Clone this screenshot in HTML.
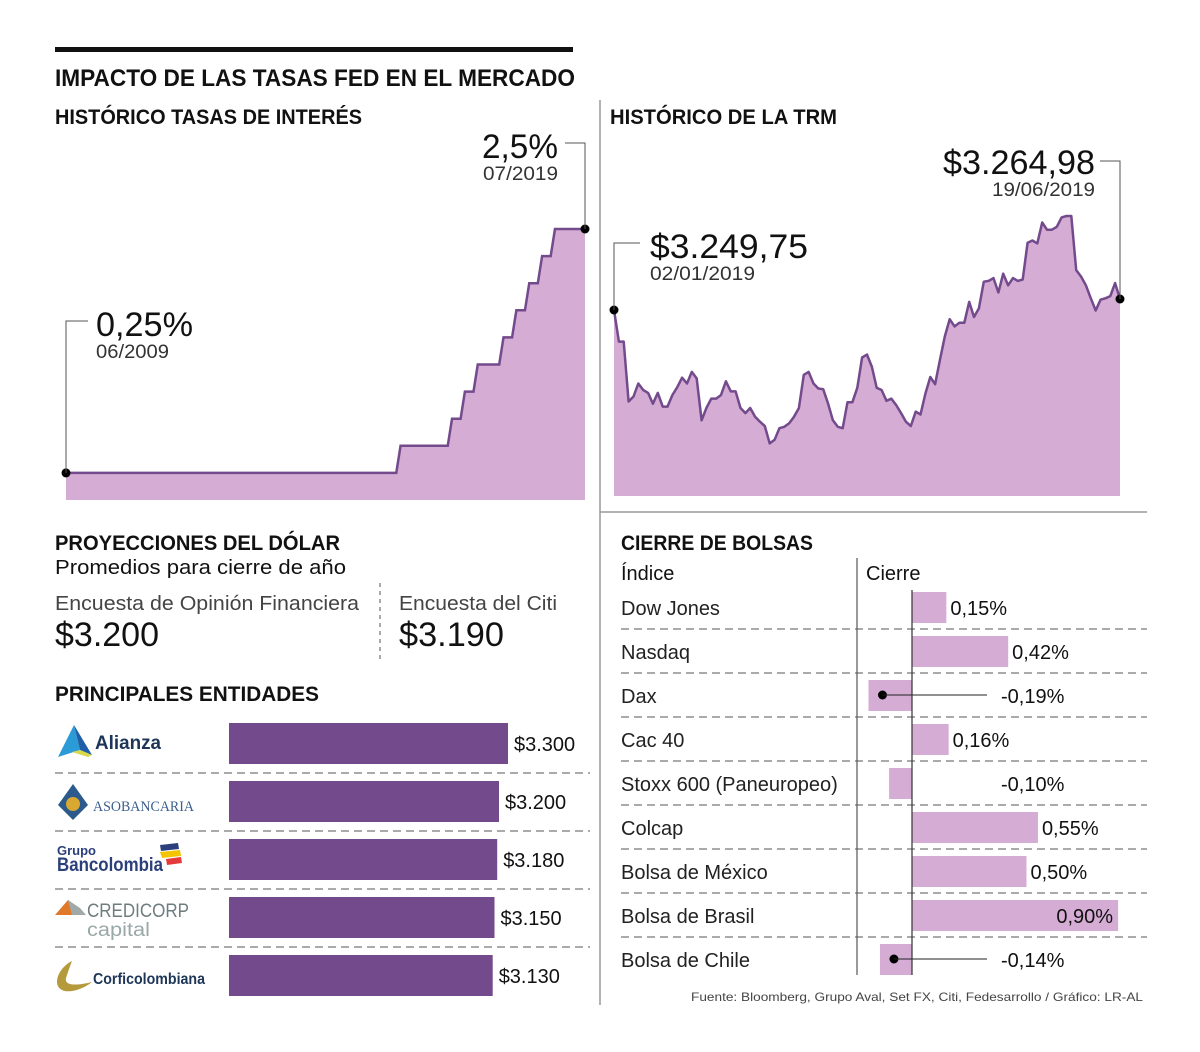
<!DOCTYPE html>
<html><head><meta charset="utf-8"><style>
html,body{margin:0;padding:0;background:#fff;}
svg{display:block;font-family:"Liberation Sans",sans-serif;}
</style></head><body>
<svg id="root" width="1200" height="1052" viewBox="0 0 1200 1052" xmlns="http://www.w3.org/2000/svg">
<rect x="55" y="47" width="518" height="5" fill="#111"/>
<text x="55" y="86" font-size="24" font-weight="bold" fill="#111" textLength="520" lengthAdjust="spacingAndGlyphs">IMPACTO DE LAS TASAS FED EN EL MERCADO</text>
<line x1="600" y1="100" x2="600" y2="1005" stroke="#999" stroke-width="1.5"/>
<line x1="600" y1="512" x2="1147" y2="512" stroke="#999" stroke-width="1.5"/>
<text x="55" y="124" font-size="21" font-weight="bold" fill="#111" textLength="307" lengthAdjust="spacingAndGlyphs">HISTÓRICO TASAS DE INTERÉS</text>
<text x="610" y="124" font-size="21" font-weight="bold" fill="#111" textLength="227" lengthAdjust="spacingAndGlyphs">HISTÓRICO DE LA TRM</text>
<g id="rates"></g>
<g id="trm"></g>

<!-- rates annotations -->
<polyline points="565,143 585,143 585,229" fill="none" stroke="#555" stroke-width="1"/>
<text x="482" y="158" font-size="34" fill="#111" textLength="76" lengthAdjust="spacingAndGlyphs">2,5%</text>
<text x="483" y="180" font-size="19" fill="#333" textLength="75" lengthAdjust="spacingAndGlyphs">07/2019</text>
<polyline points="88,321 66,321 66,473" fill="none" stroke="#555" stroke-width="1"/>
<text x="96" y="336" font-size="34" fill="#111" textLength="97" lengthAdjust="spacingAndGlyphs">0,25%</text>
<text x="96" y="358" font-size="19" fill="#333" textLength="73" lengthAdjust="spacingAndGlyphs">06/2009</text>

<!-- trm annotations -->
<polyline points="640,243 614,243 614,310" fill="none" stroke="#555" stroke-width="1"/>
<text x="650" y="258" font-size="34" fill="#111" textLength="158" lengthAdjust="spacingAndGlyphs">$3.249,75</text>
<text x="650" y="280" font-size="19" fill="#333" textLength="105" lengthAdjust="spacingAndGlyphs">02/01/2019</text>
<polyline points="1100,161 1120,161 1120,299" fill="none" stroke="#555" stroke-width="1"/>
<text x="943" y="174" font-size="34" fill="#111" textLength="152" lengthAdjust="spacingAndGlyphs">$3.264,98</text>
<text x="992" y="196" font-size="19" fill="#333" textLength="103" lengthAdjust="spacingAndGlyphs">19/06/2019</text>

<!-- projections -->
<text x="55" y="550" font-size="21" font-weight="bold" fill="#111" textLength="285" lengthAdjust="spacingAndGlyphs">PROYECCIONES DEL DÓLAR</text>
<text x="55" y="574" font-size="20" fill="#111" textLength="291" lengthAdjust="spacingAndGlyphs">Promedios para cierre de año</text>
<text x="55" y="610" font-size="20" fill="#444" textLength="304" lengthAdjust="spacingAndGlyphs">Encuesta de Opinión Financiera</text>
<text x="55" y="646" font-size="34" fill="#111" textLength="104" lengthAdjust="spacingAndGlyphs">$3.200</text>
<line x1="380" y1="583" x2="380" y2="663" stroke="#555" stroke-width="1" stroke-dasharray="4,4"/>
<text x="399" y="610" font-size="20" fill="#444" textLength="158" lengthAdjust="spacingAndGlyphs">Encuesta del Citi</text>
<text x="399" y="646" font-size="34" fill="#111" textLength="105" lengthAdjust="spacingAndGlyphs">$3.190</text>
<text x="55" y="701" font-size="21" font-weight="bold" fill="#111" textLength="264" lengthAdjust="spacingAndGlyphs">PRINCIPALES ENTIDADES</text>
<g id="entities"></g>

<!-- logos -->
<g>
<polygon points="74,725 58,757 80,750" fill="#2a9bd6"/><polygon points="74,725 92,755 80,750" fill="#1f5fa8"/><polygon points="80,750 92,755 88,757 72,752" fill="#d8d84a"/>
<text x="95" y="749" font-size="19" font-weight="bold" fill="#1d3557" textLength="66" lengthAdjust="spacingAndGlyphs">Alianza</text></g>
<g>
<polygon points="73,784 58,805 73,820 88,805" fill="#2c5a8c"/><circle cx="73" cy="804" r="7" fill="#d8a830"/>
<text x="93" y="811" font-size="15" fill="#3a5f8f" textLength="101" lengthAdjust="spacingAndGlyphs" font-family="Liberation Serif,serif">ASOBANCARIA</text></g>
<g>
<text x="57" y="855" font-size="13" font-weight="bold" fill="#2b3f7a">Grupo</text>
<text x="57" y="871" font-size="19" font-weight="bold" fill="#2b3f7a" textLength="106" lengthAdjust="spacingAndGlyphs">Bancolombia</text>
<polygon points="160,845 178,843 179,849 161,851" fill="#2b3f7a"/><polygon points="160,852 180,850 181,856 162,858" fill="#f2c500"/><polygon points="166,859 181,857 182,863 167,865" fill="#e53a3a"/></g>
<g>
<polygon points="55,915 68,900 85,915" fill="#e07a2a"/><polygon points="68,900 80,908 86,915 72,915" fill="#a0a9a8"/>
<text x="87" y="917" font-size="19" fill="#6f7d7e" textLength="102" lengthAdjust="spacingAndGlyphs">CREDICORP</text>
<text x="87" y="936" font-size="19" fill="#9aa8a8" textLength="63" lengthAdjust="spacingAndGlyphs">capital</text></g>
<g>
<path d="M72,961 C58,968 52,985 62,990 C70,994 85,988 92,982 C80,985 64,987 66,978 C68,972 70,966 72,961 Z" fill="#b49a3a"/>
<text x="93" y="984" font-size="16" font-weight="bold" fill="#1d3557" textLength="112" lengthAdjust="spacingAndGlyphs">Corficolombiana</text></g>

<!-- bolsas -->
<text x="621" y="550" font-size="21" font-weight="bold" fill="#111" textLength="192" lengthAdjust="spacingAndGlyphs">CIERRE DE BOLSAS</text>
<text x="621" y="580" font-size="20" fill="#111">Índice</text>
<text x="866" y="580" font-size="20" fill="#111">Cierre</text>
<line x1="857" y1="558" x2="857" y2="975" stroke="#333" stroke-width="1"/>
<g id="markets"></g>
<text x="1143" y="1001" font-size="12" fill="#444" text-anchor="end" textLength="452" lengthAdjust="spacingAndGlyphs">Fuente: Bloomberg, Grupo Aval, Set FX, Citi, Fedesarrollo / Gráfico: LR-AL</text>
</svg>
<script>
const NS='http://www.w3.org/2000/svg';
// ---- rates data (month index since 06/2009, rate %) ----
const rateMonths=[0,78,90,93,96,102,105,108,111,114,121];
const rateValues=[0.25,0.5,0.75,1.0,1.25,1.5,1.75,2.0,2.25,2.5,2.5];
// ---- TRM data ----
const trmValues=[3249.75,3206,3206,3123,3130,3148,3139,3135,3120,3135,3116,3116,3132,3143,3156,3148,3164,3155,3097,3114,3127,3127,3132,3151,3137,3137,3114,3107,3114,3102,3095,3089,3065,3070,3086,3088,3093,3102,3114,3160,3164,3148,3141,3140,3120,3097,3088,3086,3122,3122,3142,3184,3188,3171,3142,3139,3124,3127,3118,3107,3095,3089,3109,3105,3134,3157,3147,3181,3213,3237,3227,3232,3232,3261,3240,3252,3289,3290,3294,3274,3300,3284,3294,3290,3292,3343,3346,3342,3371,3361,3361,3365,3378,3380,3380,3305,3296,3284,3266,3249,3264,3266,3269,3287,3264.98];
// ---- entities ----
const entityNames=['Alianza','Asobancaria','Bancolombia','Credicorp Capital','Corficolombiana'];
const entityValues=[3300,3200,3180,3150,3130];
const entityLabels=['$3.300','$3.200','$3.180','$3.150','$3.130'];
// ---- markets ----
const marketNames=['Dow Jones','Nasdaq','Dax','Cac 40','Stoxx 600 (Paneuropeo)','Colcap','Bolsa de México','Bolsa de Brasil','Bolsa de Chile'];
const marketValues=[0.15,0.42,-0.19,0.16,-0.10,0.55,0.50,0.90,-0.14];
const marketLabels=['0,15%','0,42%','-0,19%','0,16%','-0,10%','0,55%','0,50%','0,90%','-0,14%'];

function mk(tag,attrs,parent){const e=document.createElementNS(NS,tag);for(const k in attrs)e.setAttribute(k,attrs[k]);parent.appendChild(e);return e;}

// rates chart
const rx=m=>66+m/121*519, ry=v=>500-v*108.4;
const rg=document.getElementById('rates');
let pts=[[rx(0),ry(rateValues[0])]];
for(let i=1;i<rateMonths.length;i++){pts.push([rx(rateMonths[i]-1),ry(rateValues[i-1])]);pts.push([rx(rateMonths[i]),ry(rateValues[i])]);}
const rArea=mk('polygon',{points:pts.map(p=>p.join(',')).join(' ')+` ${rx(121)},500 ${rx(0)},500`,fill:'#d4acd4'},rg);


const rLine=mk('polyline',{points:pts.map(p=>p.join(',')).join(' '),fill:'none',stroke:'#734a8c','stroke-width':2.5},rg);


const rd1=mk('circle',{cx:rx(0),cy:ry(rateValues[0]),r:4.5,fill:'#000'},rg);


const rd2=mk('circle',{cx:rx(121),cy:ry(rateValues[rateValues.length-1]),r:4.5,fill:'#000'},rg);



// TRM chart
const n=trmValues.length;
const tx=i=>614+i/(n-1)*506, ty=v=>310-(v-3249.75)/1.385;
const tg=document.getElementById('trm');
const tp=trmValues.map((v,i)=>tx(i).toFixed(1)+','+ty(v).toFixed(1)).join(' ');
const tArea=mk('polygon',{points:tp+` 1120,496 614,496`,fill:'#d4acd4'},tg);


const tLine=mk('polyline',{points:tp,fill:'none',stroke:'#734a8c','stroke-width':2.5,'stroke-linejoin':'round'},tg);


const td1=mk('circle',{cx:tx(0),cy:ty(trmValues[0]),r:4.5,fill:'#000'},tg);


const td2=mk('circle',{cx:tx(n-1),cy:ty(trmValues[n-1]),r:4.5,fill:'#000'},tg);



// entities
const eg=document.getElementById('entities');
const ex=v=>(v-200)*0.09;
entityValues.forEach((v,i)=>{
  const y=723+i*58;
  const b=mk('rect',{x:229,y:y,width:ex(v),height:41,fill:'#734a8c'},eg);
  
  
  const t=mk('text',{x:229+ex(v)+6,y:y+28,'font-size':20,fill:'#111'},eg);t.textContent=entityLabels[i];
  
  
  if(i<entityValues.length-1){const l=mk('line',{x1:55,y1:y+50,x2:590,y2:y+50,stroke:'#555','stroke-dasharray':'8,5'},eg);
  
  }
});

// markets
const mg=document.getElementById('markets');
const mx=v=>912+v*229;
marketValues.forEach((v,i)=>{
  const cy=607+i*44;
  const t=mk('text',{x:621,y:cy+8,'font-size':20,fill:'#222'},mg);t.textContent=marketNames[i];
  
  
  const x0=Math.min(mx(0),mx(v)),w=Math.abs(mx(v)-mx(0));
  const b=mk('rect',{x:x0,y:cy-15,width:w,height:31,fill:'#d4acd4'},mg);
  
  
  let lx,anchor='start';
  if(v<0){lx=1001;
    if(w>25){const d=mk('circle',{cx:x0+14,cy:cy,r:4.5,fill:'#000'},mg);
      
      
      const ln=mk('line',{x1:x0+14,y1:cy,x2:987,y2:cy,stroke:'#222','stroke-width':1},mg);
      
      }
  } else if(w>150){lx=mx(v)-5;anchor='end';} else lx=mx(v)+4;
  const vl=mk('text',{x:lx,y:cy+8,'font-size':20,fill:'#111','text-anchor':anchor},mg);vl.textContent=marketLabels[i];
  
  
  if(i<marketValues.length-1){const l=mk('line',{x1:621,y1:cy+22,x2:1147,y2:cy+22,stroke:'#555','stroke-dasharray':'8,5'},mg);
    
    }
});
const ax=mk('line',{x1:912,y1:590,x2:912,y2:975,stroke:'#333','stroke-width':1.2},mg);


</script>
</body></html>
